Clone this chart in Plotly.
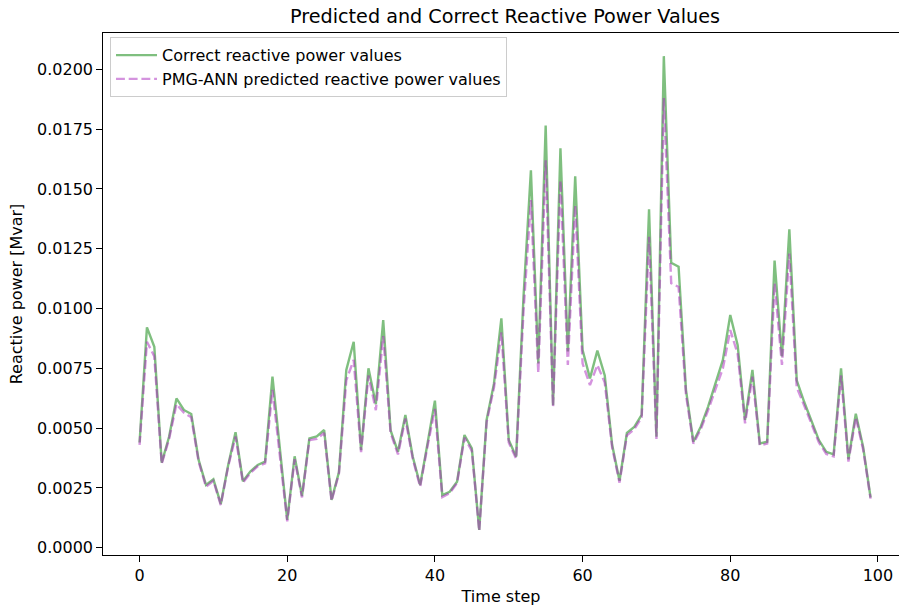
import plotly.graph_objects as go

# Time steps and reactive power series (Mvar)
time_step = list(range(100))

correct_q = [
    0.00440, 0.00921, 0.00840, 0.00355, 0.00464, 0.00624, 0.00576, 0.00559, 0.00367, 0.00262,
    0.00286, 0.00183, 0.00345, 0.00483, 0.00278, 0.00318, 0.00346, 0.00360, 0.00715, 0.00400,
    0.00116, 0.00382, 0.00216, 0.00457, 0.00465, 0.00492, 0.00200, 0.00315, 0.00743, 0.00861,
    0.00408, 0.00750, 0.00600, 0.00952, 0.00490, 0.00401, 0.00555, 0.00380, 0.00262, 0.00436,
    0.00615, 0.00220, 0.00234, 0.00276, 0.00471, 0.00415, 0.00074, 0.00534, 0.00687, 0.00959,
    0.00450, 0.00380, 0.01050, 0.01578, 0.00770, 0.01765, 0.00596, 0.01670, 0.00820, 0.01553,
    0.00826, 0.00708, 0.00824, 0.00720, 0.00430, 0.00280, 0.00480, 0.00505, 0.00555, 0.01415,
    0.00464, 0.02055, 0.01191, 0.01175, 0.00660, 0.00443, 0.00506, 0.00590, 0.00687, 0.00785,
    0.00973, 0.00847, 0.00534, 0.00743, 0.00436, 0.00443, 0.01200, 0.00800, 0.01331, 0.00700,
    0.00610, 0.00527, 0.00450, 0.00401, 0.00390, 0.00750, 0.00370, 0.00560, 0.00420, 0.00210,
]

predicted_q = [
    0.00430, 0.00861, 0.00800, 0.00350, 0.00455, 0.00600, 0.00565, 0.00545, 0.00360, 0.00255,
    0.00280, 0.00178, 0.00340, 0.00465, 0.00272, 0.00312, 0.00340, 0.00352, 0.00660, 0.00390,
    0.00110, 0.00370, 0.00210, 0.00450, 0.00455, 0.00480, 0.00195, 0.00310, 0.00700, 0.00785,
    0.00400, 0.00720, 0.00575, 0.00885, 0.00480, 0.00390, 0.00540, 0.00372, 0.00255, 0.00425,
    0.00580, 0.00212, 0.00228, 0.00270, 0.00460, 0.00405, 0.00070, 0.00525, 0.00670, 0.00900,
    0.00440, 0.00372, 0.00990, 0.01453, 0.00730, 0.01620, 0.00590, 0.01536, 0.00764, 0.01432,
    0.00770, 0.00680, 0.00764, 0.00690, 0.00420, 0.00272, 0.00470, 0.00495, 0.00545, 0.01300,
    0.00455, 0.01880, 0.01106, 0.01090, 0.00640, 0.00435, 0.00495, 0.00575, 0.00665, 0.00750,
    0.00910, 0.00810, 0.00520, 0.00715, 0.00428, 0.00435, 0.01106, 0.00764, 0.01230, 0.00670,
    0.00595, 0.00515, 0.00440, 0.00392, 0.00382, 0.00720, 0.00360, 0.00545, 0.00410, 0.00205,
]

y_ticks = [0.0, 0.0025, 0.0050, 0.0075, 0.0100, 0.0125, 0.0150, 0.0175, 0.0200]
x_ticks = [0, 20, 40, 60, 80, 100]

FONT = "DejaVu Sans"

fig = go.Figure()
fig.add_trace(go.Scatter(
    x=time_step, y=correct_q, mode="lines",
    name="Correct reactive power values",
    line=dict(color="rgba(0,128,0,0.5)", width=2.4),
))
fig.add_trace(go.Scatter(
    x=time_step, y=predicted_q, mode="lines",
    name="PMG-ANN predicted reactive power values",
    line=dict(color="rgba(170,40,190,0.5)", width=2.4, dash="8.9px,3.8px"),
))

axis_common = dict(
    showgrid=False, zeroline=False, showline=True, linecolor="black", linewidth=1.3,
    ticks="outside", ticklen=5.6, tickwidth=1.3, tickcolor="black",
    tickfont=dict(family=FONT, size=16, color="black"),
)

fig.update_layout(
    width=899, height=607,
    margin=dict(l=103, r=0, t=33, b=52),
    paper_bgcolor="white", plot_bgcolor="white",
    font=dict(family=FONT, size=16, color="black"),
    title=dict(
        text="Predicted and Correct Reactive Power Values",
        font=dict(family=FONT, size=19.2, color="black"),
        x=(103 + 907) / 2 / 899, xanchor="center",
        y=1 - 16 / 607, yanchor="middle",
    ),
    xaxis=dict(
        axis_common, range=[-4.95, 102.85], tickvals=x_ticks,
        mirror=True,
        title=dict(text="Time step", font=dict(family=FONT, size=16), standoff=6),
    ),
    yaxis=dict(
        axis_common, range=[-0.000305, 0.021518], tickvals=y_ticks, tickformat=".4f",
        title=dict(text="Reactive power [Mvar]", font=dict(family=FONT, size=16), standoff=10),
    ),
    legend=dict(
        x=0.0088, y=0.992, xanchor="left", yanchor="top",
        bgcolor="rgba(255,255,255,0.8)", bordercolor="#cccccc", borderwidth=1,
        font=dict(family=FONT, size=16), itemwidth=41,
    ),
    showlegend=True,
)

fig.write_html("out.html")
